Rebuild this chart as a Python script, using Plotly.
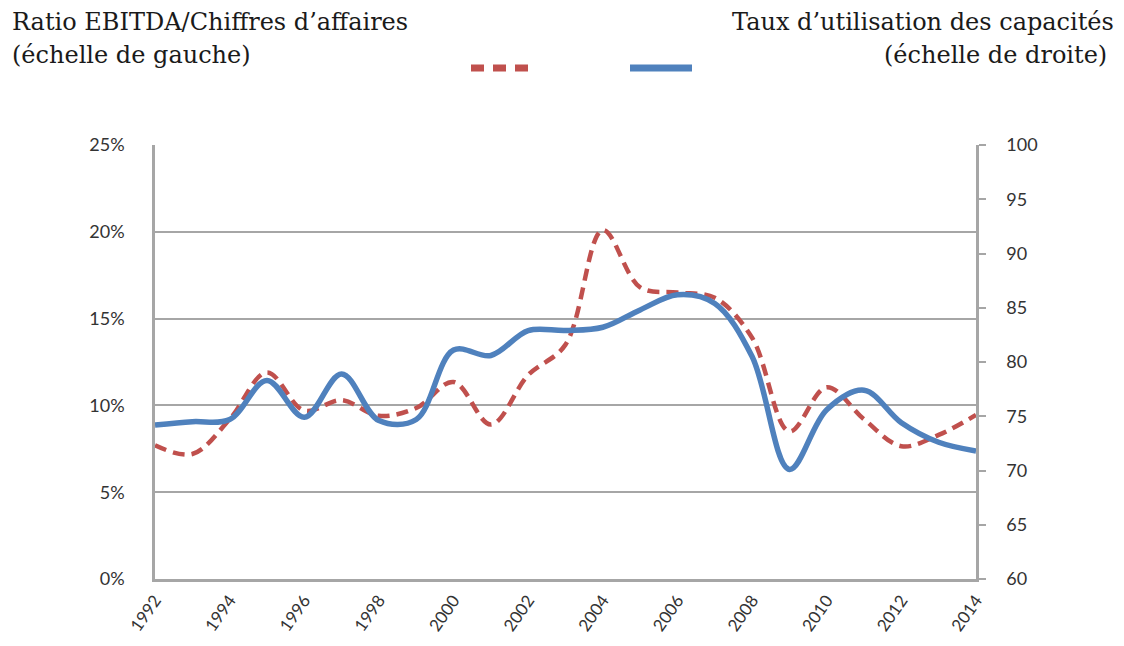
import plotly.graph_objects as go

years = list(range(1992, 2015))
ebitda_ratio = [0.077, 0.072, 0.092, 0.119, 0.097, 0.103, 0.094, 0.0985, 0.1135, 0.089,
                0.1175, 0.135, 0.201, 0.168, 0.165, 0.162, 0.139, 0.085, 0.1105, 0.092,
                0.0765, 0.083, 0.0945]
capacity_util = [74.2, 74.5, 74.7, 78.3, 74.9, 78.9, 74.6, 74.7, 81.1, 80.6,
                 82.9, 82.9, 83.2, 84.8, 86.2, 85.4, 80.5, 70.1, 75.6, 77.4,
                 74.4, 72.6, 71.8]

left_title = ["Ratio EBITDA/Chiffres d’affaires", "(échelle de gauche)"]
right_title = ["Taux d’utilisation des capacités", "(échelle de droite)"]

RED = "#C0504D"
BLUE = "#4F81BD"
GRID = "#A6A6A6"
TICKFONT = dict(family="Lato, Open Sans, sans-serif", size=18, color="#333333")
XTICKFONT = dict(family="Lato, Open Sans, sans-serif", size=17, color="#333333")
HEADFONT = dict(family="DejaVu Serif, serif", size=24, color="#1a1a1a")

fig = go.Figure()
fig.add_trace(go.Scatter(x=years, y=ebitda_ratio, mode="lines", yaxis="y",
                         line=dict(color=RED, width=4.5, dash="12px,7px", shape="spline", smoothing=1.0),
                         name=left_title[0], showlegend=False))
fig.add_trace(go.Scatter(x=years, y=capacity_util, mode="lines", yaxis="y2",
                         line=dict(color=BLUE, width=5.5, shape="spline", smoothing=1.0),
                         name=right_title[0], showlegend=False))

OFF = 8  # page body margin
L, R, T, B = 155 - OFF, 976 - OFF, 145 - OFF, 579 - OFF
W, H = 1124 - 2 * OFF, 646 - 2 * OFF
def px(xp):
    return (xp - OFF - L) / (R - L)
def py(yp):
    return (B - (yp - OFF)) / (B - T)

fig.update_layout(
    width=W, height=H,
    margin=dict(l=L, r=W - R, t=T, b=H - B, autoexpand=False),
    paper_bgcolor="white", plot_bgcolor="white",
    xaxis=dict(range=[1992, 2014], tickmode="array", tickvals=years[::2],
               ticktext=[str(y) for y in years[::2]], tickangle=-55, automargin=False,
               showgrid=False, zeroline=False, showline=True, linecolor=GRID, linewidth=2.5,
               ticks="", tickfont=XTICKFONT, ticklabelstandoff=2),
    yaxis=dict(range=[0, 0.25], dtick=0.05, tickformat=".0%", showgrid=True, automargin=False,
               gridcolor=GRID, gridwidth=2, zeroline=False, showline=True,
               linecolor=GRID, linewidth=2.5, ticks="", tickfont=TICKFONT,
               ticklabelstandoff=24),
    yaxis2=dict(range=[60, 100], dtick=5, overlaying="y", side="right", showgrid=False,
                automargin=False,
                zeroline=False, showline=True, linecolor=GRID, linewidth=2.5,
                ticks="outside", ticklen=7, tickcolor=GRID, tickwidth=2,
                tickfont=TICKFONT, ticklabelstandoff=17),
)

annots = [
    dict(text=left_title[0], x=px(10), y=py(22), xanchor="left"),
    dict(text=left_title[1], x=px(10), y=py(55), xanchor="left"),
    dict(text=right_title[0], x=px(1116), y=py(22), xanchor="right"),
    dict(text=right_title[1], x=px(1109), y=py(55), xanchor="right"),
]
for a in annots:
    fig.add_annotation(xref="paper", yref="paper", yanchor="middle", showarrow=False,
                       font=HEADFONT, **a)

fig.add_shape(type="line", xref="paper", yref="paper", x0=px(471), x1=px(529), y0=py(68), y1=py(68),
              line=dict(color=RED, width=7, dash="13px,9px"))
fig.add_shape(type="line", xref="paper", yref="paper", x0=px(630), x1=px(692), y0=py(68), y1=py(68),
              line=dict(color=BLUE, width=7))

fig.write_html("out.html")
